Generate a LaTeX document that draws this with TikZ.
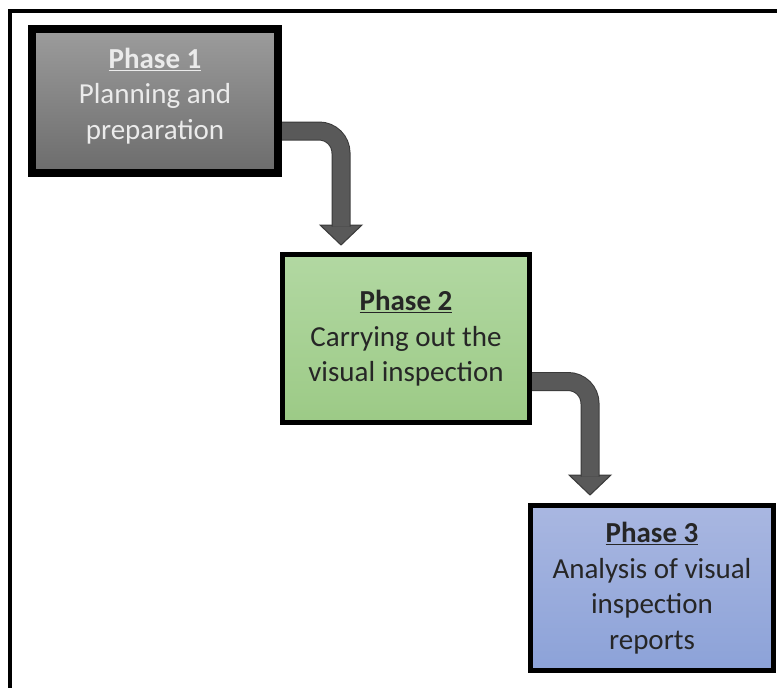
\documentclass[tikz,border=0pt]{standalone}
\usepackage{fontspec}
\setmainfont{Carlito}
\usetikzlibrary{calc}

\definecolor{greyTop}{HTML}{9C9C9C}
\definecolor{greyBot}{HTML}{6C6C6C}
\definecolor{greenTop}{HTML}{B2D8A2}
\definecolor{greenBot}{HTML}{9CCA86}
\definecolor{blueTop}{HTML}{A9B7E1}
\definecolor{blueBot}{HTML}{8CA2D8}
\definecolor{arrowFill}{HTML}{595959}
\definecolor{arrowEdge}{HTML}{3A3A3A}
\definecolor{darkText}{HTML}{262626}
\definecolor{lightText}{HTML}{EBEBEB}

\newcommand{\phasetitle}[1]{\underline{\textbf{#1}}}

\tikzset{
  phasebox/.style={draw=black, rectangle, align=center, inner sep=0pt,
    font=\fontsize{29}{35.5}\selectfont},
  arrowbody/.style={draw=arrowEdge, line width=1pt, double=arrowFill,
    double distance=17pt, line cap=butt, rounded corners=22pt},
  arrowhead/.style={fill=arrowFill, draw=arrowEdge, line width=1pt, line join=miter}
}

\begin{document}
\begin{tikzpicture}[x=1pt,y=-1pt]
  \useasboundingbox (0,0) rectangle (777,688);

  % page frame: only the top and left edges lie inside the picture
  \begin{scope}
    \clip (0,0) rectangle (777,688);
    \draw[line width=4pt, line join=miter] (10,700) -- (10,11) -- (790,11);
  \end{scope}

  % phase boxes
  \node[phasebox, line width=8pt, top color=greyTop, bottom color=greyBot,
        text=lightText, minimum width=246pt, minimum height=144pt, text depth=15pt]
        (p1) at (155,101) {\phasetitle{Phase 1}\\Planning and\\preparation};
  \node[phasebox, line width=5pt, top color=greenTop, bottom color=greenBot,
        text=darkText, minimum width=247pt, minimum height=168pt]
        (p2) at (406,338.5) {\phasetitle{Phase 2}\\Carrying out the\\visual inspection};
  \node[phasebox, line width=5pt, top color=blueTop, bottom color=blueBot,
        text=darkText, minimum width=243pt, minimum height=165pt]
        (p3) at (652,588) {\phasetitle{Phase 3}\\Analysis of visual\\inspection\\reports};

  % arrow from phase 1 to phase 2
  \coordinate (a1s) at ([yshift=-30pt]p1.east);
  \coordinate (a1t) at ([xshift=61pt,yshift=7pt]p2.north west);
  \coordinate (a1h) at ($(a1t)+(0,-20)$);
  \draw[arrowhead] ($(a1h)+(-21,0)$) -- ($(a1h)+(21,0)$) -- (a1t) -- cycle;
  \draw[arrowbody] (a1s) -| ($(a1h)+(0,1.5)$);

  % arrow from phase 2 to phase 3
  \coordinate (a2s) at ([yshift=-43pt]p2.east);
  \coordinate (a2t) at ([xshift=62pt,yshift=8pt]p3.north west);
  \coordinate (a2h) at ($(a2t)+(0,-20)$);
  \draw[arrowhead] ($(a2h)+(-21,0)$) -- ($(a2h)+(21,0)$) -- (a2t) -- cycle;
  \draw[arrowbody] (a2s) -| ($(a2h)+(0,1.5)$);
\end{tikzpicture}
\end{document}
